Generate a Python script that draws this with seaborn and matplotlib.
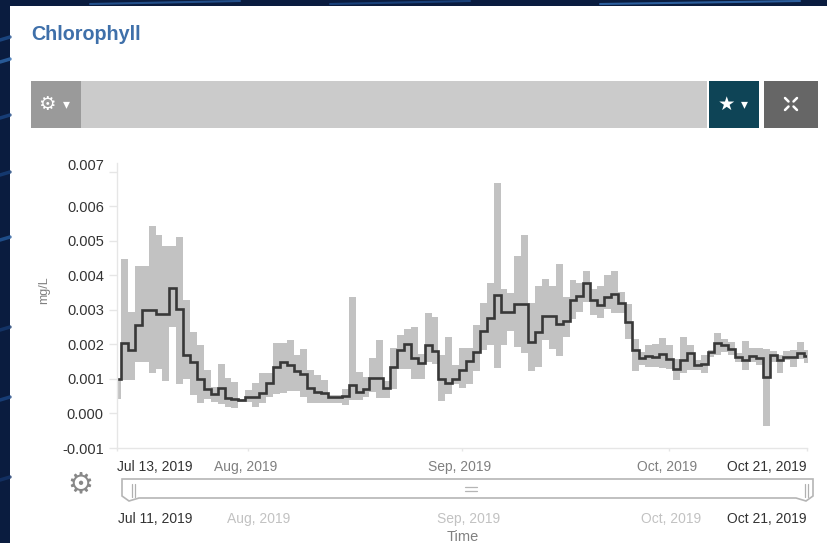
import numpy as np
import pandas as pd
import matplotlib
matplotlib.use("Agg")
import matplotlib.pyplot as plt
import seaborn as sns
from matplotlib.patches import Rectangle, Polygon
from matplotlib.transforms import ScaledTranslation

# Daily chlorophyll readings, in units of 0.001 mg/L
chl_mean = [1.0, 2.05, 1.85, 2.55, 3.0, 3.0, 2.87, 2.87, 3.62, 3.03, 1.68, 1.49, 1.0, .72, .55, .74, .45, .42, .40, .48,
            .48, .58, .87, 1.35, 1.49, 1.41, 1.22, 1.15, .74, .62, .58, .48, .48, .50, .82, .62, .70, 1.03, 1.03, .74,
            1.35, 1.83, 2.02, 1.61, 1.46, 1.97, 1.81, .99, .88, 1.01, 1.27, 1.51, 1.78, 2.38, 2.77, 3.43, 2.93, 2.93, 3.17, 3.17,
            2.07, 2.36, 2.81, 2.81, 2.58, 2.69, 3.27, 3.41, 3.78, 3.27, 3.15, 3.38, 3.46, 3.2, 2.66, 1.83, 1.61, 1.66, 1.63, 1.71,
            1.57, 1.3, 1.56, 1.76, 1.39, 1.44, 1.78, 2.04, 1.97, 1.88, 1.63, 1.54, 1.66, 1.61, 1.06, 1.68, 1.54, 1.62, 1.63, 1.76, 1.66]
chl_upper = [1.0, 4.47, 2.93, 4.26, 4.26, 5.43, 5.16, 4.86, 4.86, 5.1, 3.27, 2.37, 1.97, 1.25, .77, 1.44, 1.03, .91, .43, .67,
             .88, 1.18, 1.18, 2.05, 2.05, 2.14, 1.7, 1.88, 1.25, 1.12, .96, .53, .53, .72, 3.37, 1.2, 1.06, 1.61, 2.13, .95,
             1.89, 2.26, 2.45, 2.5, 1.73, 2.9, 2.79, 1.68, 2.21, 1.39, 1.9, 1.9, 2.55, 3.19, 3.77, 6.68, 3.6, 3.5, 4.57, 5.16,
             3.2, 3.68, 3.88, 3.68, 4.33, 3.37, 3.87, 3.77, 4.13, 3.6, 3.68, 4.0, 4.12, 3.53, 3.17, 2.16, 1.78, 1.97, 2.02, 2.19,
             1.97, 1.59, 2.21, 1.97, 1.54, 1.68, 1.83, 2.34, 2.16, 2.07, 1.76, 2.09, 1.9, 1.9, 1.88, 1.8, 1.68, 1.81, 1.83, 2.07, 1.83]
chl_lower = [.43, .96, .96, 1.49, 1.49, 1.18, 1.3, .93, 2.5, .84, .99, .53, .29, .43, .32, .26, .19, .16, .34, .32,
             .19, .29, .48, .56, .6, .64, .64, .48, .29, .29, .29, .29, .29, .24, .38, .38, .48, .62, .45, .45,
             .72, 1.3, 1.3, .99, .99, 1.49, 1.44, .36, .56, .84, .75, .85, 1.22, 1.83, 1.97, 1.32, 1.97, 2.4, 1.92, 1.76,
             1.22, 1.35, 2.12, 1.88, 1.66, 2.21, 2.74, 2.93, 3.22, 2.86, 2.77, 3.01, 2.91, 2.91, 2.16, 1.22, 1.39, 1.35, 1.35, 1.33,
             1.3, .98, 1.18, 1.25, 1.25, 1.18, 1.63, 1.68, 1.78, 1.68, 1.49, 1.27, 1.49, 1.39, -.36, 1.49, 1.18, 1.54, 1.35, 1.57, 1.47]
y_ticks = [-0.001, 0.0, 0.001, 0.002, 0.003, 0.004, 0.005, 0.006, 0.007]
x_tick_dates = ["2019-07-13", "2019-08-01", "2019-09-01", "2019-10-01", "2019-10-21"]
x_tick_labels = ["Jul 13, 2019", "Aug, 2019", "Sep, 2019", "Oct, 2019", "Oct 21, 2019"]
range_labels = ["Jul 11, 2019", "Aug, 2019", "Sep, 2019", "Oct, 2019", "Oct 21, 2019"]

W, H = 828, 543
sns.set_theme(style="white")
plt.rcParams["font.family"] = ["Liberation Sans", "DejaVu Sans"]
fig = plt.figure(figsize=(W / 100, H / 100), dpi=100, facecolor="#0a1c3f")


def rect(l, t, r, b):
    return [l / W, 1 - b / H, (r - l) / W, (b - t) / H]


# page furniture, drawn in a pixel-coordinates layer
bg = fig.add_axes([0, 0, 1, 1], zorder=0)
bg.set_xlim(0, W)
bg.set_ylim(H, 0)
bg.axis("off")
for yy, c in [(40, "#1f4f8f"), (62, "#2f69ad"), (118, "#1b4684"), (175, "#17407a"), (240, "#245a9c"),
              (330, "#163a70"), (400, "#1b4684"), (480, "#15356a")]:
    bg.plot([0, 10], [yy, yy - 3], color=c, lw=2.5, alpha=0.8)
for x0, x1, c in [(90, 240, "#2a5d9e"), (330, 470, "#1d4a88"), (600, 800, "#3570b5")]:
    bg.plot([x0, x1], [4, 1], color=c, lw=1.5, alpha=0.8)
bg.add_patch(Rectangle((10, 6), W - 10, H - 6, fc="white", ec="none"))
bg.text(31, 35, "Chlorophyll", color="#3f70aa", fontsize=14.2, fontweight="bold", va="center", ha="left")
bg.add_patch(Rectangle((31, 81), 676, 47, fc="#cbcbcb", ec="none"))
bg.add_patch(Rectangle((31, 81), 50, 47, fc="#9a9a9a", ec="none"))
bg.add_patch(Rectangle((709, 81), 50, 47, fc="#0e4456", ec="none"))
bg.add_patch(Rectangle((764, 81), 54, 47, fc="#666666", ec="none"))
bg.text(47, 104, "\u2699", color="white", fontsize=14, ha="center", va="center", family="DejaVu Sans")
bg.text(66, 104, "\u25be", color="white", fontsize=10, ha="center", va="center", family="DejaVu Sans")
bg.text(726, 104, "\u2605", color="white", fontsize=14, ha="center", va="center", family="DejaVu Sans")
bg.text(744, 104, "\u25be", color="white", fontsize=10, ha="center", va="center", family="DejaVu Sans")
for sx, sy in [(-1, -1), (1, -1), (-1, 1), (1, 1)]:
    bg.plot([791 + 2.5 * sx, 791 + 6 * sx], [104 + 2.5 * sy, 104 + 6 * sy], color="white", lw=1.8)
bg.text(80, 484, "\u2699", color="#888888", fontsize=21, ha="center", va="center", family="DejaVu Sans")

# range selector
bg.add_patch(Polygon([(122, 479), (813, 479), (813, 496), (806, 501), (796, 498), (139, 498), (129, 501), (122, 496)],
                     closed=True, fc="white", ec="#b5b5b5", lw=1.2))
for xx in (132, 135, 805, 808):
    bg.plot([xx, xx], [484, 497], color="#b0b0b0", lw=0.9)
for yy in (487, 491):
    bg.plot([465, 477], [yy, yy], color="#b5b5b5", lw=0.9)
range_x = [118, 227, 437, 641, 807]
range_colors = ["#333333", "#c2c2c2", "#c2c2c2", "#c2c2c2", "#333333"]
for i, (xx, lab, c) in enumerate(zip(range_x, range_labels, range_colors)):
    bg.text(xx, 519, lab, color=c, fontsize=10, va="center", ha="right" if i == 4 else "left")
bg.text(463, 537, "Time", color="#808080", fontsize=10.5, va="center", ha="center")
bg.text(44, 290, "mg/L", color="#808080", fontsize=9, va="center", ha="center", rotation=90)

# chart
ax = fig.add_axes(rect(117, 163, 807, 448), zorder=1)
ax.patch.set_alpha(0)
dates = pd.date_range("2019-07-12 14:00", periods=len(chl_mean) + 1, freq="D")
to_mgl = lambda v: np.r_[np.array(v), v[-1]] * 1e-3
frame = pd.DataFrame({"Time": dates, "mean": to_mgl(chl_mean), "low": to_mgl(chl_lower), "high": to_mgl(chl_upper)})
ax.fill_between(frame["Time"], frame["low"], frame["high"], step="post", color="#c2c2c2", lw=0)
sns.lineplot(data=frame, x="Time", y="mean", drawstyle="steps-post", color="#383838", lw=1.9, ax=ax,
             solid_joinstyle="miter", errorbar=None)
ax.set_xlim(pd.Timestamp(x_tick_dates[0]), pd.Timestamp(x_tick_dates[-1]))
ax.set_ylim(-0.001, 0.00725)
ax.set_xlabel("")
ax.set_ylabel("")
for side in ("top", "right"):
    ax.spines[side].set_visible(False)
for side in ("left", "bottom"):
    ax.spines[side].set_color("#e6e6e6")
    ax.spines[side].set_linewidth(1.0)

ax.set_yticks(y_ticks, [f"{v:.3f}" for v in y_ticks])
ax.set_xticks(pd.to_datetime(x_tick_dates), x_tick_labels)
ax.tick_params(axis="x", length=2.5, width=1, color="#e6e6e6", labelsize=10, labelcolor="#333333", pad=6, bottom=True)
ax.tick_params(axis="y", length=6, width=1, color="#e6e6e6", labelsize=10.5, labelcolor="#333333", pad=3.5, left=True)
# the top label sits at the end of the axis line, as in the original widget
top = ax.get_yticklabels()[-1]
top.set_transform(top.get_transform() + ScaledTranslation(0, 7 / 100, fig.dpi_scale_trans))
xlabs = ax.get_xticklabels()
xlabs[0].set_ha("left")
xlabs[-1].set_ha("right")
for lab in xlabs[1:-1]:
    lab.set_color("#808080")
    lab.set_transform(lab.get_transform() + ScaledTranslation(-2 / 100, 0, fig.dpi_scale_trans))

fig.savefig("out.png", dpi=100, facecolor=fig.get_facecolor())
